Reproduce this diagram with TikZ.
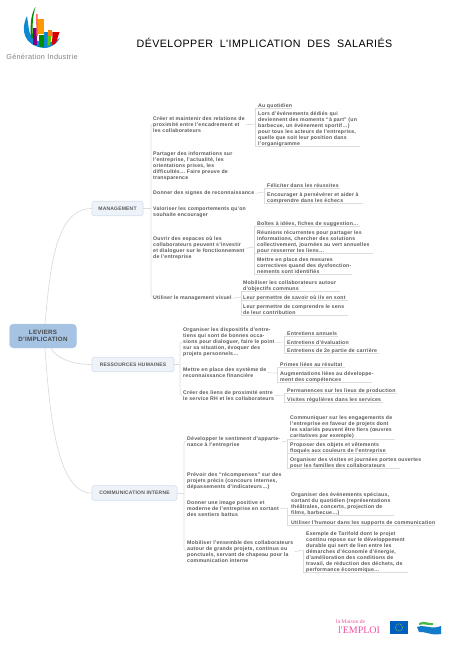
\documentclass[tikz,border=0pt]{standalone}
\usepackage{fontspec}
\setmainfont[LetterSpace=4]{Liberation Sans}
\newfontfamily\titlefont[LetterSpace=4,WordSpace=2]{Liberation Sans}
\newfontfamily\seriffont{Liberation Serif}
\definecolor{txt}{HTML}{5A5A5A}
\definecolor{lnk}{HTML}{DCDCDC}
\definecolor{rootfill}{HTML}{A6C3E3}
\definecolor{boxfill}{HTML}{EEF3FA}
\definecolor{boxline}{HTML}{D3DEEC}
\tikzset{
 lab/.style={anchor=north west,inner sep=0pt,yshift=-1.6pt,align=left,text=txt,font=\fontsize{5.2}{6.05}\selectfont\bfseries},
 topic/.style={draw=boxline,fill=boxfill,rounded corners=1.5pt,line width=.6pt,text=txt,inner sep=0pt,align=center,font=\fontsize{5}{6}\selectfont\bfseries},
 lk/.style={draw=lnk,line width=.7pt,rounded corners=1.5pt},
 ul/.style={draw=lnk,line width=.8pt},
}
\newcommand{\lbl}[4]{\node[lab] (#1) at (#2,#3) {#4};}
\begin{document}
\begin{tikzpicture}[x=1pt,y=-1pt]
\useasboundingbox (0,0) rectangle (452,646);
% logo
\fill[cyan!70!blue] (27,16) .. controls (20,30) and (24,46) .. (44,48) .. controls (52,48) and (57,43) .. (60,38) .. controls (52,44) and (32,46) .. (29,30) -- cycle;
\fill[orange!80!yellow] (37,19) rectangle (44,34);
\fill[violet] (32.5,28) rectangle (36.5,45);
\fill[green!55!black] (39,35) rectangle (43.5,47);
\fill[cyan!70!blue] (43.5,32) rectangle (47.5,46);
\fill[orange] (47.5,30) rectangle (51.5,36);
\fill[green!60!yellow!80!black] (47.5,36) -- (51.5,36) -- (50,45) -- (47.5,46) -- cycle;
\fill[red!85!black] (52.5,32) -- (59.5,32) -- (56,43) -- (52,45) -- cycle;
\fill[green!55!black] (35.5,7) .. controls (31,14) and (30,24) .. (31,38) -- (33,38) .. controls (32,24) and (33,15) .. (35.5,7) -- cycle;
\fill[red!60!white] (36,14) -- (37.5,14) -- (38,36) -- (36.5,36) -- cycle;
\node[inner sep=0pt,text=gray,font=\fontsize{7.3}{8}\selectfont] (brand) at (42,57) {Génération Industrie};
\node[inner sep=0pt,text=black,font=\titlefont\fontsize{10.7}{12}\selectfont] (title) at (264.5,43) {DÉVELOPPER L'IMPLICATION DES SALARIÉS};
% topics
\node[inner sep=0pt,rounded corners=4pt,fill=rootfill,draw=rootfill!85!white,minimum width=67pt,minimum height=24pt,align=center,text=txt!80!black,font=\fontsize{6.2}{7}\selectfont\bfseries] (root) at (43,336) {LEVIERS\\D'IMPLICATION};
\node[topic,minimum width=51pt,minimum height=14.5pt] (mg) at (117.5,208.5) {MANAGEMENT};
\node[topic,minimum width=82pt,minimum height=14.5pt] (rh) at (133,364.5) {RESSOURCES HUMAINES};
\node[topic,minimum width=85pt,minimum height=14.5pt] (ci) at (134.5,493) {COMMUNICATION INTERNE};
\draw[lk] (root.north) ++(2,0) coordinate (r1) .. controls (50,270) and (55,208.5) .. (mg.west);
\draw[lk] (root.south) ++(8,0) coordinate (r2) .. controls (56,358) and (72,364.5) .. (rh.west);
\draw[lk] (root.south) ++(2,0) coordinate (r3) .. controls (50,420) and (58,493) .. (ci.west);
% management
\lbl{a}{153}{115}{Créer et maintenir des relations de\\proximité entre l'encadrement et\\les collaborateurs}
\lbl{b}{153}{150}{Partager des informations sur\\l'entreprise, l'actualité, les\\orientations prises, les\\difficultés… Faire preuve de\\transparence}
\lbl{c}{153}{189}{Donner des signes de reconnaissance}
\lbl{d}{153}{205}{Valoriser les comportements qu'on\\souhaite encourager}
\lbl{e}{153}{235}{Ouvrir des espaces où les\\collaborateurs peuvent s'investir\\et dialoguer sur le fonctionnement\\de l'entreprise}
\lbl{f}{153}{294}{Utiliser le management visuel}
\draw[lk] (mg.east) -- (151,208.5);
\draw[lk] (153,124) -- (151,124) -- (151,297) -- (153,297);
\lbl{a1}{258}{102}{Au quotidien}
\lbl{a2}{258}{110}{Lors d'événements dédiés qui\\deviennent des moments ``à part'' (un\\barbecue, un événement sportif…)\\pour tous les acteurs de l'entreprise,\\quelle que soit leur position dans\\l'organigramme}
\draw[lk] (a.east) ++(1,0) -- (255,124);
\draw[ul] (255,108) -- (292,108); \draw[ul] (255,146.5) -- (360,146.5); \draw[lk] (255,108) -- (255,146.5);
\lbl{c1}{267}{182}{Féliciter dans les réussites}
\lbl{c2}{267}{191}{Encourager à persévérer et aider à\\comprendre dans les échecs}
\draw[lk] (c.east) ++(1,0) -- (264,192);
\draw[ul] (264,188) -- (340,188); \draw[ul] (264,203) -- (363,203); \draw[lk] (264,188) -- (264,203);
\lbl{e1}{257}{220}{Boîtes à idées, fiches de suggestion…}
\lbl{e2}{257}{229}{Réunions récurrentes pour partager les\\informations, chercher des solutions\\collectivement, journées au vert annuelles\\pour resserrer les liens…}
\lbl{e3}{257}{256}{Mettre en place des mesures\\correctives quand des dysfonction-\\nements sont identifiés}
\draw[lk] (e.east) ++(1,0) -- (254,247);
\draw[ul] (254,226) -- (360,226); \draw[ul] (254,253) -- (373,253); \draw[ul] (254,274) -- (352,274); \draw[lk] (254,226) -- (254,274);
\lbl{f1}{243}{279}{Mobiliser les collaborateurs autour\\d'objectifs communs}
\lbl{f2}{243}{294}{Leur permettre de savoir où ils en sont}
\lbl{f3}{243}{303}{Leur permettre de comprendre le sens\\de leur contribution}
\draw[lk] (f.east) ++(1,0) -- (241,297);
\draw[ul] (241,291) -- (340,291); \draw[ul] (241,300) -- (348,300); \draw[ul] (241,315.5) -- (348,315.5); \draw[lk] (241,291) -- (241,315.5);
% RH
\lbl{g}{183}{326}{Organiser les dispositifs d'entre-\\tiens qui sont de bonnes occa-\\sions pour dialoguer, faire le point\\sur sa situation, évoquer des\\projets personnels…}
\lbl{h}{183}{366}{Mettre en place des système de\\reconnaissance financière}
\lbl{i}{183}{389}{Créer des liens de proximité entre\\le service RH et les collaborateurs}
\draw[lk] (rh.east) -- (180,364.5);
\draw[lk] (183,342) -- (180,342) -- (180,395) -- (183,395);
\lbl{g1}{287}{330}{Entretiens annuels}
\lbl{g2}{287}{339}{Entretiens d'évaluation}
\lbl{g3}{287}{347}{Entretiens de 2e partie de carrière}
\draw[lk] (g.east) ++(1,0) -- (284,342);
\draw[ul] (284,336) -- (338,336); \draw[ul] (284,345) -- (345,345); \draw[ul] (284,353.5) -- (379,353.5); \draw[lk] (284,336) -- (284,353.5);
\lbl{h1}{280}{361}{Primes liées au résultat}
\lbl{h2}{280}{370}{Augmentations liées au développe-\\ment des compétences}
\draw[lk] (h.east) ++(1,0) -- (277,373);
\draw[ul] (277,367) -- (345,367); \draw[ul] (277,382.5) -- (372,382.5); \draw[lk] (277,367) -- (277,382.5);
\lbl{i1}{287}{387}{Permanences sur les lieux de production}
\lbl{i2}{287}{396}{Visites régulières dans les services}
\draw[lk] (i.east) ++(1,0) -- (284,395);
\draw[ul] (284,393) -- (397,393); \draw[ul] (284,402) -- (383,402); \draw[lk] (284,393) -- (284,402);
% comm
\lbl{j}{187}{435}{Développer le sentiment d'apparte-\\nance à l'entreprise}
\lbl{k}{187}{471}{Prévoir des ``récompenses'' sur des\\projets précis (concours internes,\\dépassements d'indicateurs…)}
\lbl{l}{187}{499}{Donner une image positive et\\moderne de l'entreprise en sortant\\des sentiers battus}
\lbl{m}{187}{539}{Mobiliser l'ensemble des collaborateurs\\autour de grands projets, continus ou\\ponctuels, servant de chapeau pour la\\communication interne}
\draw[lk] (ci.east) -- (184,493);
\draw[lk] (187,441) -- (184,441) -- (184,550) -- (187,550);
\lbl{j1}{290}{414}{Communiquer sur les engagements de\\l'entreprise en faveur de projets dont\\les salariés peuvent être fiers (œuvres\\caritatives par exemple)}
\lbl{j2}{290}{441}{Proposer des objets et vêtements\\floqués aux couleurs de l'entreprise}
\lbl{j3}{290}{456}{Organiser des visites et journées portes ouvertes\\pour les familles des collaborateurs}
\draw[lk] (j.east) ++(1,0) -- (287,441);
\draw[ul] (287,439) -- (395,439); \draw[ul] (287,453) -- (387,453); \draw[ul] (287,468) -- (400,468); \draw[lk] (287,439) -- (287,468);
\lbl{l1}{291}{491}{Organiser des événements spéciaux,\\sortant du quotidien (représentations\\théâtrales, concerts, projection de\\films, barbecue…)}
\lbl{l2}{291}{519}{Utiliser l'humour dans les supports de communication}
\draw[lk] (l.east) ++(1,0) -- (287,508);
\draw[ul] (287,515.5) -- (394,515.5); \draw[ul] (287,525) -- (435,525); \draw[lk] (287,508) -- (287,525);
\lbl{m1}{306}{530}{Exemple de Tarifold dont le projet\\continu repose sur le développement\\durable qui sert de lien entre les\\démarches d'économie d'énergie,\\d'amélioration des conditions de\\travail, de réduction des déchets, de\\performance économique…}
\draw[lk] (m.east) ++(1,0) -- (303,550);
\draw[ul] (303,572) -- (408,572); \draw[lk] (303,550) -- (303,572);
% bottom logos
\node[inner sep=0pt,anchor=west,text=magenta!60!pink,font=\seriffont\fontsize{5.6}{6}\selectfont] (maison) at (336,621.5) {la Maison de};
\node[inner sep=0pt,anchor=west,text=magenta!60!pink,font=\seriffont\fontsize{10}{11}\selectfont] (emploi) at (338,630) {l'EMPLOI};
\fill[blue!50!cyan!75!black] (390,621) rectangle (408,634);
\draw[yellow,line width=.5pt,dash pattern=on .8pt off 1.2pt] (399,627.5) circle (3.6);
\fill[cyan!60!blue] (417,627) .. controls (424,624) and (432,630) .. (441,626) -- (441,634) .. controls (432,636) and (424,631) .. (419,632) -- cycle;
\fill[green!45!gray] (419,623) .. controls (424,620) and (429,624) .. (433,623) -- (433,625) .. controls (428,626) and (424,623) .. (419,625) -- cycle;
\end{tikzpicture}
\end{document}
